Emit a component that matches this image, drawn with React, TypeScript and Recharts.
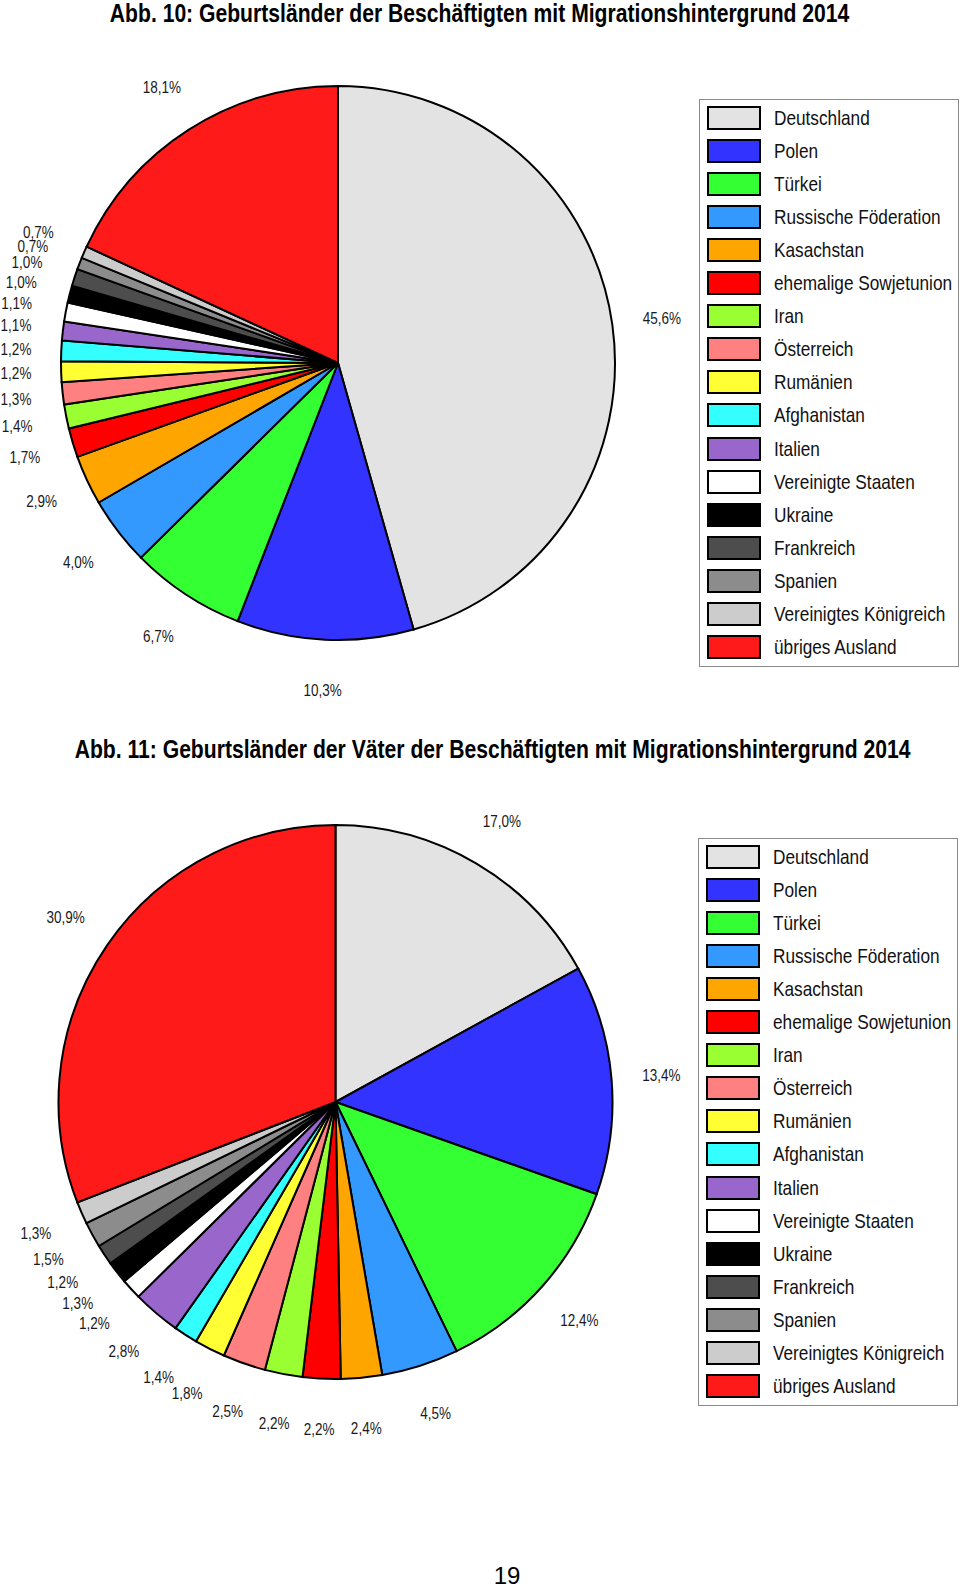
import React from 'react';
import { PieChart, Pie, Cell } from 'recharts';

const countries = [
  'Deutschland',
  'Polen',
  'Türkei',
  'Russische Föderation',
  'Kasachstan',
  'ehemalige Sowjetunion',
  'Iran',
  'Österreich',
  'Rumänien',
  'Afghanistan',
  'Italien',
  'Vereinigte Staaten',
  'Ukraine',
  'Frankreich',
  'Spanien',
  'Vereinigtes Königreich',
  'übriges Ausland'
];

const colors = [
  '#e3e3e3',
  '#3333ff',
  '#33ff33',
  '#3399ff',
  '#ffa500',
  '#ff0000',
  '#99ff33',
  '#ff8080',
  '#ffff33',
  '#33ffff',
  '#9966cc',
  '#ffffff',
  '#000000',
  '#4d4d4d',
  '#8c8c8c',
  '#cccccc',
  '#ff1a1a'
];

// Abb. 10: Geburtsländer der Beschäftigten (%)
const beschaeftigte = [45.6, 10.3, 6.7, 4.0, 2.9, 1.7, 1.4, 1.3, 1.2, 1.2, 1.1, 1.1, 1.0, 1.0, 0.7, 0.7, 18.1];
// Abb. 11: Geburtsländer der Väter (%)
const vaeter = [17.0, 13.4, 12.4, 4.5, 2.4, 2.2, 2.2, 2.5, 1.8, 1.4, 2.8, 1.2, 1.3, 1.2, 1.5, 1.3, 30.9];

// no Arial Narrow available -> Arial metrics squeezed horizontally
const FONT = "'Liberation Sans', Arial, sans-serif";
const NARROW = 0.82;
const RADIAN = Math.PI / 180;

const renderLabel = ({ cx, cy, midAngle, outerRadius, value }: any) => {
  const r = outerRadius + 50;
  // keep the leftmost labels inside the page
  const x = Math.max(cx + r * Math.cos(-midAngle * RADIAN), 16);
  const y = cy + r * Math.sin(-midAngle * RADIAN);
  return (
    <text
      transform={`translate(${x} ${y}) scale(${NARROW} 1)`}
      fill="#1a1a1a"
      textAnchor="middle"
      dominantBaseline="central"
      fontSize={16.5}
      fontFamily={FONT}>
      {`${value.toFixed(1).replace('.', ',')}%`}
    </text>);
};

function CountryLegend({ left, top }: { left: number; top: number }) {
  return (
    <div
      style={{
        position: 'absolute',
        left,
        top,
        width: 260,
        height: 568,
        border: '1.5px solid #8a8a8a',
        boxSizing: 'border-box'
      }}>
      {countries.map((name, i) =>
      <div
        key={name}
        style={{
          position: 'absolute',
          left: 7,
          top: 18 + i * 33.05 - 13,
          height: 26,
          display: 'flex',
          alignItems: 'center'
        }}>
          <div
          style={{
            width: 54,
            height: 24,
            flex: 'none',
            background: colors[i],
            border: '2px solid #000',
            boxSizing: 'border-box'
          }} />
          <span
          style={{
            display: 'inline-block',
            marginLeft: 13,
            fontSize: 21,
            fontFamily: FONT,
            color: '#111',
            whiteSpace: 'nowrap',
            transform: `scaleX(${NARROW})`,
            transformOrigin: 'left center'
          }}>
            {name}
          </span>
        </div>
      )}
    </div>);
}

function CountryPie({ values, top, height, cx, cy }: any) {
  const data = countries.map((name, i) => ({ name, value: values[i] }));
  return (
    <div style={{ position: 'absolute', left: 0, top, width: 700, height }}>
      <PieChart width={700} height={height} margin={{ top: 0, right: 0, bottom: 0, left: 0 }}>
        <Pie
          data={data}
          dataKey="value"
          nameKey="name"
          cx={cx}
          cy={cy}
          outerRadius={277}
          startAngle={90}
          endAngle={-270}
          stroke="#000"
          strokeWidth={2}
          labelLine={false}
          label={renderLabel}
          isAnimationActive={false}>
          {data.map((entry, index) =>
          <Cell key={`cell-${index}`} fill={colors[index]} />
          )}
        </Pie>
      </PieChart>
    </div>);
}

function Title({ top, center, children }: any) {
  return (
    <div
      style={{
        position: 'absolute',
        left: center - 480,
        width: 960,
        top,
        height: 24,
        lineHeight: '24px',
        textAlign: 'center',
        whiteSpace: 'nowrap'
      }}>
      <span
        style={{
          display: 'inline-block',
          fontFamily: FONT,
          fontWeight: 'bold',
          fontSize: 25,
          color: '#000',
          transform: 'scaleX(0.845)',
          transformOrigin: 'center center'
        }}>
        {children}
      </span>
    </div>);
}

export default function App() {
  return (
    <div style={{ position: 'absolute', left: 0, top: 0, width: 960, height: 1589, background: '#fff', overflow: 'hidden' }}>
      <Title top={1} center={480}>
        Abb. 10: Geburtsländer der Beschäftigten mit Migrationshintergrund 2014
      </Title>
      <CountryPie values={beschaeftigte} top={0} height={720} cx={338} cy={363} />
      <CountryLegend left={699} top={99} />

      <Title top={737} center={478}>
        Abb. 11: Geburtsländer der Väter der Beschäftigten mit Migrationshintergrund 2014
      </Title>
      <CountryPie values={vaeter} top={730} height={820} cx={335.5} cy={372} />
      <CountryLegend left={698} top={838} />

      <div
        style={{
          position: 'absolute',
          left: 0,
          width: 1014,
          top: 1562,
          textAlign: 'center',
          fontFamily: FONT,
          fontSize: 24,
          color: '#000'
        }}>
        19
      </div>
    </div>);
}
